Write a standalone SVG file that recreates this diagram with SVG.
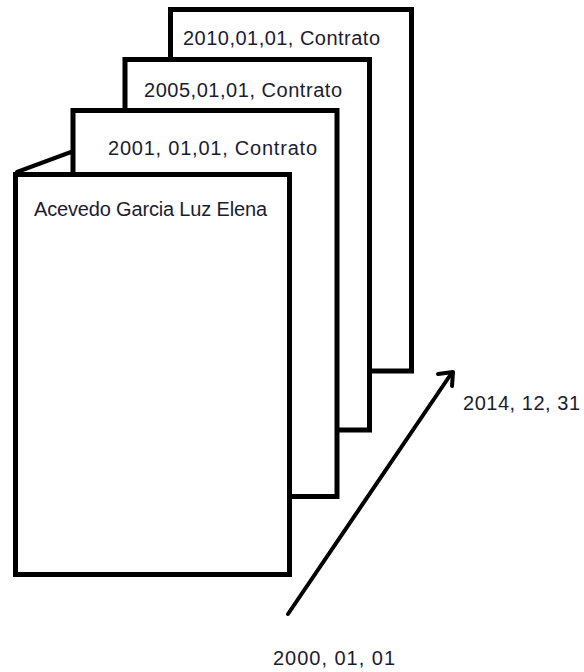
<svg xmlns="http://www.w3.org/2000/svg" width="584" height="672" viewBox="0 0 584 672">
<style>
.card{fill:#ffffff;stroke:#000000;stroke-width:5}
.lbl{font-family:"Liberation Sans",Arial,sans-serif;font-size:20px;fill:#1c1c30}
.conn{fill:none;stroke:#000000;stroke-width:4;stroke-linecap:round;stroke-linejoin:round}
</style>
<rect width="584" height="672" fill="#ffffff"/>
<g id="card4">
<rect class="card" x="170.5" y="9.5" width="241" height="361.5"/>
<text class="lbl" x="183" y="45" textLength="197" lengthAdjust="spacing">2010,01,01, Contrato</text>
</g>
<g id="card3">
<rect class="card" x="125" y="59.5" width="244.5" height="370.5"/>
<text class="lbl" x="144" y="97" textLength="198" lengthAdjust="spacing">2005,01,01, Contrato</text>
</g>
<g id="card2">
<rect class="card" x="73" y="110.5" width="264" height="386"/>
<text class="lbl" x="108" y="155" textLength="209" lengthAdjust="spacing">2001, 01,01, Contrato</text>
</g>
<g id="card1">
<rect class="card" x="15.5" y="174.5" width="274" height="400"/>
<text class="lbl" x="34" y="216" textLength="233" lengthAdjust="spacing">Acevedo Garcia Luz Elena</text>
</g>
<g id="connectors">
<path class="conn" stroke-width="3.5" d="M17,172 L71,152"/>
<path class="conn" d="M288,614 L451,374"/>
<path class="conn" stroke-width="3.5" d="M438,374 L453,372 L452,386"/>
</g>
<g id="labels">
<text class="lbl" x="463" y="410" textLength="117" lengthAdjust="spacing">2014, 12, 31</text>
<text class="lbl" x="273" y="665" textLength="122" lengthAdjust="spacing">2000, 01, 01</text>
</g>
</svg>
